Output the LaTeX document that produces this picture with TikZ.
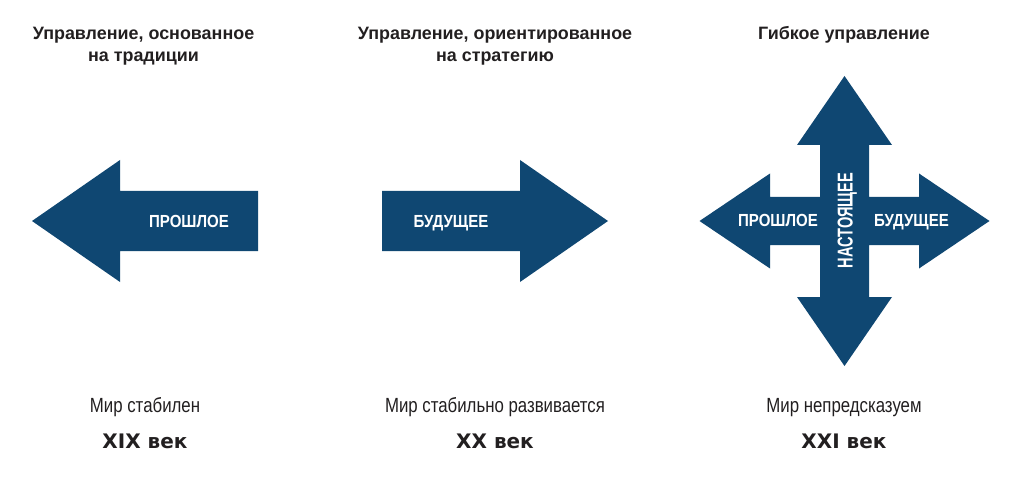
\documentclass[tikz,border=0pt]{standalone}
\usepackage{fontspec}
\setmainfont{Liberation Sans}
\newfontfamily\narrowfont{Liberation Sans}[FakeStretch=0.82]
\newfontfamily\labelfont{Liberation Sans}[FakeStretch=0.86]
\newfontfamily\upfont{Liberation Sans}[FakeStretch=0.68]
\newfontfamily\erafont{DejaVu Sans}
\usetikzlibrary{positioning}
\definecolor{mgmtblue}{RGB}{15,71,114}
\definecolor{mgmttext}{RGB}{34,31,32}
\tikzset{
  shapefill/.style={fill=mgmtblue,draw=none},
  ttl/.style={align=center,anchor=base,inner sep=0pt,text=mgmttext,
              font=\bfseries\fontsize{17.9}{22}\selectfont},
  albl/.style={anchor=base,inner sep=0pt,text=white,
               font=\labelfont\bfseries\fontsize{17.5}{17.5}\selectfont},
  world/.style={anchor=base,inner sep=0pt,text=mgmttext,
                font=\narrowfont\fontsize{20.5}{20.5}\selectfont},
  era/.style={anchor=base,inner sep=0pt,text=mgmttext,
              font=\erafont\bfseries\fontsize{20}{20}\selectfont},
}
\begin{document}
\begin{tikzpicture}[x=1pt,y=-1pt]
\useasboundingbox (0,0) rectangle (1024,478);
% titles (base = last line)
\node[ttl] (ttrad) at (143.5,62) {Управление, основанное\\на традиции};
\node[ttl] (tstrat) at (495,62) {Управление, ориентированное\\на стратегию};
\node[ttl] (tagile) at (844,40) {Гибкое управление};
% past arrow
\fill[shapefill] (32,221) -- (120,160) -- (120,191) -- (258,191) -- (258,251)
  -- (120,251) -- (120,282) -- cycle;
\node[albl] (past) at (189,227.5) {ПРОШЛОЕ};
% future arrow
\fill[shapefill] (382,191) -- (520,191) -- (520,160) -- (608,221) -- (520,282)
  -- (520,251) -- (382,251) -- cycle;
\node[albl] (future) at (451,227.5) {БУДУЩЕЕ};
% cross of four arrows
\begin{scope}[shift={(844.5,221)}]
\fill[shapefill] (0,-145) -- (47.5,-76) -- (24.5,-76) -- (24.5,-24) -- (74.5,-24)
  -- (74.5,-47.5) -- (145,0) -- (74.5,47.5) -- (74.5,24) -- (24.5,24) -- (24.5,76)
  -- (47.5,76) -- (0,145) -- (-47.5,76) -- (-24.5,76) -- (-24.5,24) -- (-74.5,24)
  -- (-74.5,47.5) -- (-145,0) -- (-74.5,-47.5) -- (-74.5,-24) -- (-24.5,-24)
  -- (-24.5,-76) -- (-47.5,-76) -- cycle;
\end{scope}
\node[albl] (xpast) at (778,226.7) {ПРОШЛОЕ};
\node[albl] (xfuture) at (911.5,226.7) {БУДУЩЕЕ};
\node[albl,font=\upfont\bfseries\fontsize{21.5}{21.5}\selectfont,rotate=90]
  (xnow) at (852.5,220.5) {НАСТОЯЩЕЕ};
% world and century
\node[world] (wstable) at (145,412) {Мир стабилен};
\node[world] (wgrow) at (495,412) {Мир стабильно развивается};
\node[world] (wunpred) at (844,412) {Мир непредсказуем};
\node[era] (c19) at (145,448) {XIX век};
\node[era] (c20) at (495,448) {XX век};
\node[era] (c21) at (844,448) {XXI век};
\end{tikzpicture}
\end{document}
